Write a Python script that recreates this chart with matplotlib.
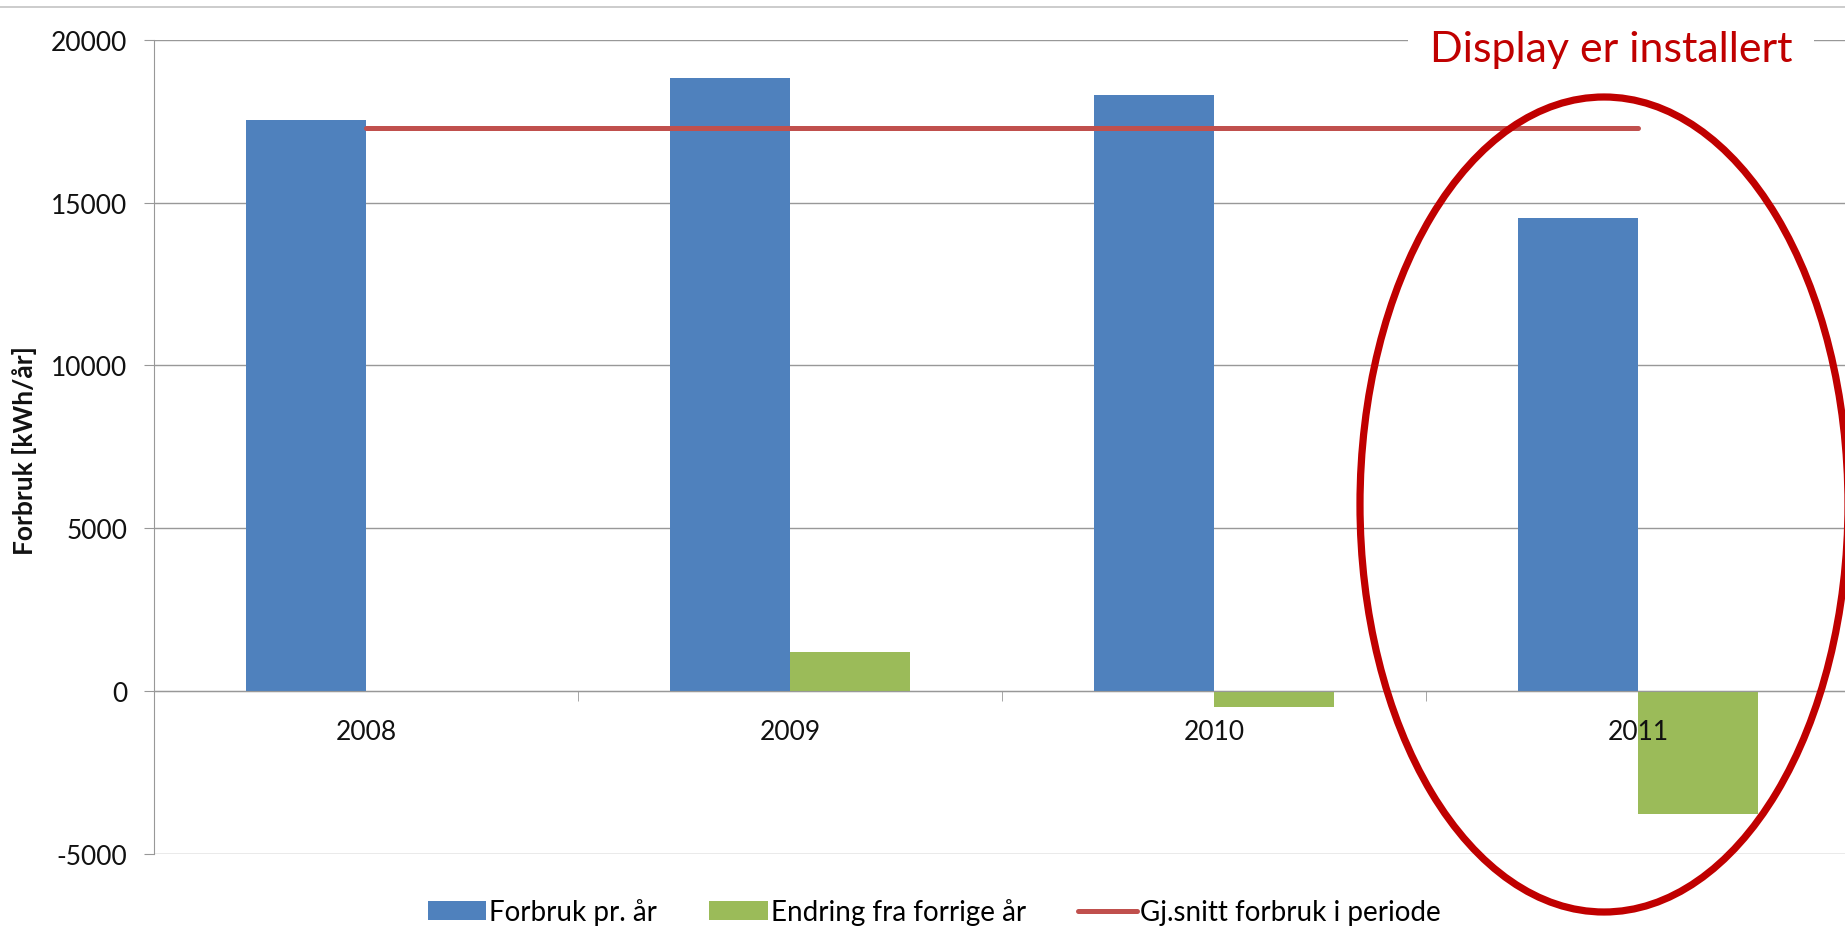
import matplotlib
matplotlib.use("Agg")
import matplotlib.pyplot as plt
from matplotlib.patches import Ellipse
from matplotlib.lines import Line2D
import numpy as np

plt.rcParams["font.family"] = ["Lato", "DejaVu Sans"]
plt.rcParams["axes.unicode_minus"] = False

BLUE = "#4F81BD"; GREEN = "#9BBB59"; RED = "#C0504D"; DARKRED = "#C00000"
GRID = "#989898"

# data (kWh/år)
years = ["2008", "2009", "2010", "2011"]
forbruk = [17540, 18810, 18300, 14530]
endring = [0, 1200, -500, -3780]
snitt = [17285, 17285, 17285, 17285]
yticks = [-5000, 0, 5000, 10000, 15000, 20000]

W, H = 1845, 929
fig = plt.figure(figsize=(W / 100, H / 100), dpi=100)
ax = fig.add_axes([154 / W, 1 - 854.7 / H, 1696 / W, 814 / H])

# gridlines by hand so the tick labels can sit on top of the bars
for t in yticks:
    ax.axhline(t, color=GRID, linewidth=1.0, zorder=0)

x = np.arange(len(years))
bw = 0.284
b1 = ax.bar(x - bw / 2, forbruk, bw, color=BLUE, label="Forbruk pr. år", zorder=1)
b2 = ax.bar(x + bw / 2, endring, bw, color=GREEN, label="Endring fra forrige år", zorder=1)
l1, = ax.plot(x, snitt, color=RED, linewidth=3.6, solid_capstyle="round",
              label="Gj.snitt forbruk i periode", zorder=2)

ax.set_xlim(-0.5, 3.5)
ax.set_ylim(-5000, 20000)
ax.set_yticks(yticks)
ax.tick_params(axis="y", length=7, color=GRID, pad=12, labelsize=19, labelcolor="#111111")

ax.spines["top"].set_visible(False)
ax.spines["right"].set_visible(False)
ax.spines["left"].set_color(GRID)
ax.spines["bottom"].set_position(("data", 0))
ax.spines["bottom"].set_color(GRID)
ax.set_xticks(x)
ax.set_xticklabels(years)
ax.set_xticks([0.5, 1.5, 2.5], minor=True)
ax.tick_params(axis="x", which="major", length=0, pad=20, labelsize=19, labelcolor="#111111")
ax.tick_params(axis="x", which="minor", length=7, color=GRID, direction="out")

fig.text(25 / W, 1 - 451 / H, "Forbruk [kWh/år]", rotation=90, ha="center", va="center",
         fontsize=19, fontweight="bold", color="#111111")

# thin frame line at the very top of the slide
fig.add_artist(Line2D([0, 1], [1 - 8 / H, 1 - 8 / H], transform=fig.transFigure,
                      color="#c4c4c4", linewidth=1.2))

fig.text(1611 / W, 1 - 62 / H, "Display er installert", ha="center", va="baseline",
         fontsize=31, color=DARKRED, zorder=10,
         bbox=dict(boxstyle="square,pad=0.5", facecolor="white", edgecolor="none"))

fig.add_artist(Ellipse((1604 / W, 1 - 505.5 / H), 488 / W, 815 / H, transform=fig.transFigure,
                       fill=False, edgecolor=DARKRED, linewidth=5.2, zorder=11))

fig.legend(handles=[b1, b2, l1], loc="center", bbox_to_anchor=(934 / W, 1 - 913 / H),
           ncol=3, frameon=False, fontsize=20, handlelength=2.1, handleheight=0.65,
           handletextpad=0.1, columnspacing=1.9)

fig.savefig("out.png", dpi=100)
